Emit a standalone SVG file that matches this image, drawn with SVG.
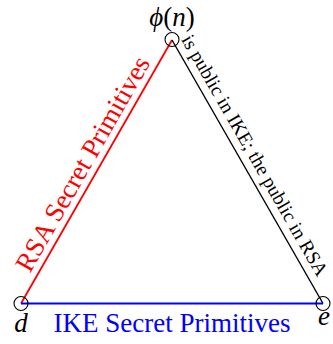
<svg xmlns="http://www.w3.org/2000/svg" width="333" height="344" viewBox="0 0 333 344">
<style>
.serif{font-family:"Liberation Serif","DejaVu Serif",serif}
.it{font-style:italic}
.node{fill:none;stroke:#000;stroke-width:1.1}
</style>
<rect width="333" height="344" fill="#fff"/>
<g id="connectors" fill="none">
<line id="edge-rsa" x1="172" y1="40" x2="21" y2="303.5" stroke="#ff0000" stroke-width="1.8"/>
<line id="edge-public" x1="172" y1="40" x2="323" y2="303.5" stroke="#000" stroke-width="1.4"/>
<line id="edge-ike" x1="21" y1="303.5" x2="323" y2="303.5" stroke="#0000ff" stroke-width="2.2"/>
</g>
<g id="edge-labels" class="serif">
<text transform="translate(96.5,171.75) rotate(-60.19)" x="0" y="-7" text-anchor="middle" font-size="27" fill="#ff0000">RSA Secret Primitives</text>
<text transform="translate(172,40) rotate(60.19)" x="4" y="-8" text-anchor="start" font-size="19.5" fill="#000">is public in IKE; the public in RSA</text>
<text x="172" y="331.5" text-anchor="middle" font-size="27" fill="#0000ff">IKE Secret Primitives</text>
</g>
<g id="node-phi">
<circle class="node" cx="172" cy="39.5" r="7"/>
<text class="serif" x="172" y="26" text-anchor="middle" font-size="27"><tspan class="it">ϕ</tspan>(<tspan class="it">n</tspan>)</text>
</g>
<g id="node-d">
<circle class="node" cx="21" cy="303.5" r="7"/>
<text class="serif it" x="21" y="331.5" text-anchor="middle" font-size="27">d</text>
</g>
<g id="node-e">
<circle class="node" cx="323" cy="303.5" r="7"/>
<text class="serif it" x="324" y="325" text-anchor="middle" font-size="27">e</text>
</g>
</svg>
